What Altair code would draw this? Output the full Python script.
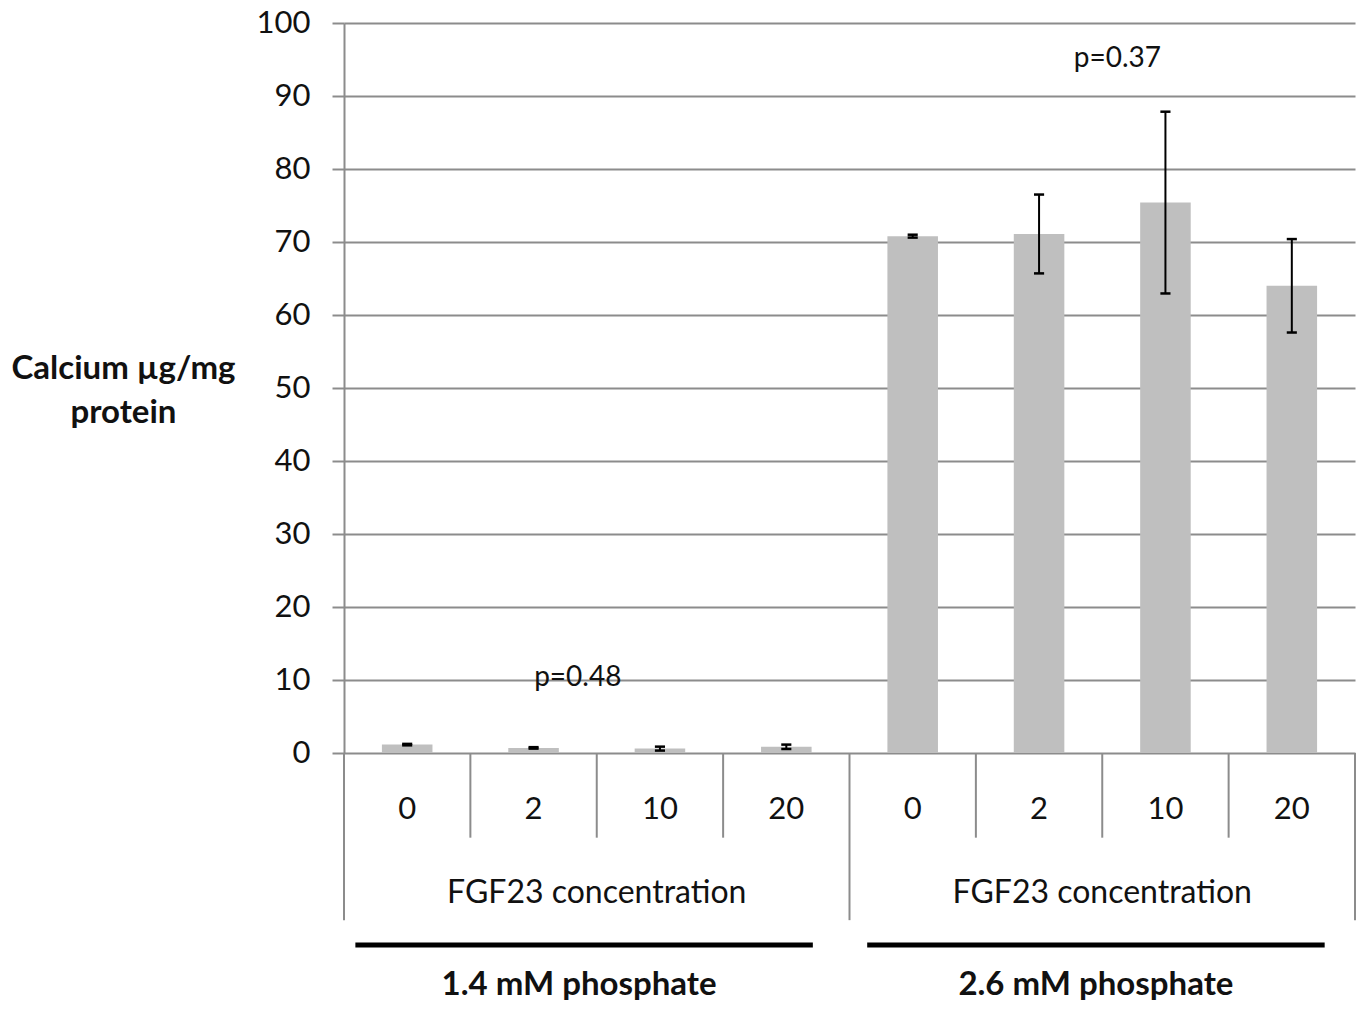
import altair as alt
import pandas as pd

# ---- data ----
groups = ["1.4 mM phosphate", "2.6 mM phosphate"]
fgf23 = ["0", "2", "10", "20"]
means_low = [1.15, 0.7, 0.6, 0.85]
errs_low = [0.1, 0.1, 0.27, 0.3]
means_high = [70.8, 71.1, 75.4, 64.0]
errs_high = [0.2, 5.4, 12.45, 6.4]
p_labels = ["p=0.48", "p=0.37"]
p_heights = [10.3, 95.1]
y_ticks = [0, 10, 20, 30, 40, 50, 60, 70, 80, 90, 100]

FONT = "Lato"
GRID = "#8c8c8c"

rows = []
for gi, (m, e) in enumerate([(means_low, errs_low), (means_high, errs_high)]):
    for ci, lab in enumerate(fgf23):
        slot = gi * 4 + ci
        rows.append({"slot": slot, "label": lab, "group": groups[gi],
                     "mean": m[ci], "lo": m[ci] - e[ci], "hi": m[ci] + e[ci]})
df = pd.DataFrame(rows)

x_scale = alt.Scale(domain=[0, 8], nice=False, zero=False)
y_scale = alt.Scale(domain=[0, 100], nice=False)

base = alt.Chart(df).transform_calculate(
    c="datum.slot + 0.5",
    b0="datum.slot + 0.3",
    b1="datum.slot + 0.7",
    k0="datum.slot + 0.46",
    k1="datum.slot + 0.54",
)

yaxis = alt.Axis(
    values=y_ticks, grid=True, gridColor=GRID, gridWidth=2,
    domainColor=GRID, domainWidth=2, tickColor=GRID, tickWidth=2, tickSize=12,
    labelFont=FONT, labelFontSize=31, labelColor="#111", labelPadding=22,
    title=["Calcium µg/mg", "protein"], titleFont=FONT, titleFontSize=33,
    titleFontWeight="bold", titleColor="#111", titleAngle=0,
    titleAlign="center", titleBaseline="middle", titleX=-221, titleY=345,
    titleLineHeight=44,
)

bars = base.mark_bar(color="#bfbfbf").encode(
    x=alt.X("b0:Q", scale=x_scale, axis=None),
    x2="b1:Q",
    y=alt.Y("mean:Q", scale=y_scale, axis=yaxis),
    y2=alt.datum(0),
)

err_v = base.mark_rule(color="black", strokeWidth=2).encode(
    x="c:Q", y="lo:Q", y2="hi:Q")
err_top = base.mark_rule(color="black", strokeWidth=2.5).encode(
    x="k0:Q", x2="k1:Q", y="hi:Q")
err_bot = base.mark_rule(color="black", strokeWidth=2.5).encode(
    x="k0:Q", x2="k1:Q", y="lo:Q")

# category labels below the axis
sub_labels = base.mark_text(font=FONT, fontSize=31, color="#111",
                            baseline="middle", align="center").encode(
    x="c:Q", y=alt.datum(-7.8), text="label:N")

# hierarchical axis separators
sub_sep = pd.DataFrame({"xs": [1, 2, 3, 5, 6, 7]})
grp_sep = pd.DataFrame({"xs": [0, 4, 8]})
sub_rules = alt.Chart(sub_sep).mark_rule(color=GRID, strokeWidth=2).encode(
    x="xs:Q", y=alt.datum(0), y2=alt.datum(-11.6))
grp_rules = alt.Chart(grp_sep).mark_rule(color=GRID, strokeWidth=2).encode(
    x="xs:Q", y=alt.datum(0), y2=alt.datum(-22.9))

grp_df = pd.DataFrame({
    "group": groups,
    "axis_title": ["FGF23 concentration", "FGF23 concentration"],
    "gc": [2, 6],
    "lc": [1.86, 5.95],
    "l0": [0.09, 4.14],
    "l1": [3.71, 7.76],
})
grp_titles = alt.Chart(grp_df).mark_text(font=FONT, fontSize=32, color="#111",
                                         baseline="middle").encode(
    x="gc:Q", y=alt.datum(-19.2), text="axis_title:N")
black_lines = alt.Chart(grp_df).mark_rule(color="black", strokeWidth=5).encode(
    x="l0:Q", x2="l1:Q", y=alt.datum(-26.3))
grp_names = alt.Chart(grp_df).mark_text(font=FONT, fontSize=33, fontWeight="bold",
                                        color="#111", baseline="middle").encode(
    x="lc:Q", y=alt.datum(-31.8), text="group:N")

p_df = pd.DataFrame({"txt": p_labels, "px": [1.85, 6.12], "py": p_heights})
p_text = alt.Chart(p_df).mark_text(font=FONT, fontSize=28, color="#111",
                                   baseline="middle").encode(
    x="px:Q", y="py:Q", text="txt:N")

chart = alt.layer(
    bars, err_v, err_top, err_bot, sub_rules, grp_rules, sub_labels,
    grp_titles, black_lines, grp_names, p_text,
).properties(
    width=1011, height=730,
    autosize=alt.AutoSizeParams(type="none"),
    padding={"left": 344, "top": 23, "right": 7, "bottom": 252},
    background="white",
).configure_view(stroke=None)

chart.save("out.html", embed_options={"renderer": "svg", "actions": False})
